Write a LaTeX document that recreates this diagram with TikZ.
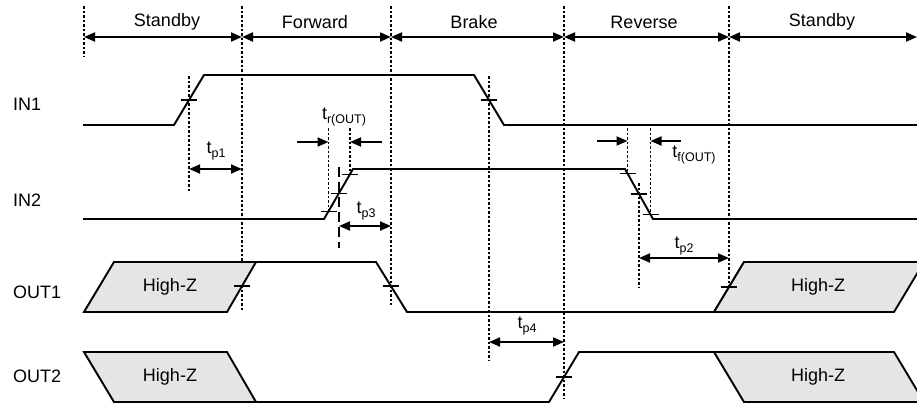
\documentclass[tikz,border=0pt]{standalone}
\usepackage{fontspec}
\setmainfont{Liberation Sans}
\usetikzlibrary{arrows.meta}
\newcommand\tsub[1]{t\raisebox{-4pt}{\fontsize{12.5}{13}\selectfont #1}}
\begin{document}
\begin{tikzpicture}[x=1pt,y=-1pt,
  sig/.style={line width=1.9pt, line join=miter},
  guide/.style={line width=1.5pt, dash pattern=on 2.5pt off 2pt},
  longdash/.style={line width=1.5pt, dash pattern=on 10pt off 5pt},
  tickmark/.style={line width=1.2pt},
  dimarrow/.style={line width=1.8pt, {Triangle[length=11pt,width=9pt]}-{Triangle[length=11pt,width=9pt]}},
  pointer/.style={line width=1.8pt, -{Triangle[length=11pt,width=9pt]}},
  lbl/.style={font=\fontsize{18}{20}\selectfont, inner sep=0pt},
  sublbl/.style={font=\fontsize{18}{20}\selectfont, inner sep=0pt},
  hiz/.style={fill=gray!20, line width=1.9pt, line join=miter}]
\useasboundingbox (0,0) rectangle (917,405);

% ---------- phase boundaries ----------
\foreach \n/\x/\yb in {b0/84/57, b1/242/310, b2/391/305, b3/564/398, b4/729/305} {
  \coordinate (\n t) at (\x,6);
  \coordinate (\n) at (\x,37);
  \coordinate (\n b) at (\x,\yb);
  \draw[guide] (\n t) -- (\n b);
}
\coordinate (b5) at (917,37);
\draw[dimarrow] (b0) -- (b1);
\draw[dimarrow] (b1) -- (b2);
\draw[dimarrow] (b2) -- (b3);
\draw[dimarrow] (b3) -- (b4);
\draw[dimarrow] (b4) -- (b5);

\node[lbl] (ph1) at (167,22) {Standby};
\node[lbl] (ph2) at (315,22) {Forward};
\node[lbl] (ph3) at (474,22) {Brake};
\node[lbl] (ph4) at (644,22) {Reverse};
\node[lbl] (ph5) at (822,22) {Standby};

% ---------- signal names ----------
\node[lbl, anchor=west] (nin1) at (13,104) {IN1};
\node[lbl, anchor=west] (nin2) at (13,200) {IN2};
\node[lbl, anchor=west] (nout1) at (13,292) {OUT1};
\node[lbl, anchor=west] (nout2) at (13,376) {OUT2};

% ---------- IN1 ----------
\draw[sig] (83,125) -- (174,125) -- (204,75) -- (474,75) -- (504,125) -- (917,125);
\coordinate (g1t) at (189,76);  \coordinate (g1b) at (189,192);
\draw[guide] (g1t) -- (g1b);
\draw[tickmark] (181,100) -- (197,100);
\coordinate (g5t) at (489,76);  \coordinate (g5b) at (489,360);
\draw[guide] (g5t) -- (g5b);
\draw[tickmark] (481,100) -- (497,100);

% ---------- IN2 ----------
\draw[sig] (83,219) -- (324,219) -- (353,169) -- (625,169) -- (653,219) -- (917,219);
% rise
\coordinate (r1t) at (328.5,128); \coordinate (r1b) at (328.5,211.2);
\coordinate (r3t) at (350,128);   \coordinate (r3b) at (350,174.2);
\coordinate (r2t) at (339,167);   \coordinate (r2b) at (339,248);
\draw[guide] (r1t) -- (r1b);
\draw[guide] (r3t) -- (r3b);
\draw[longdash] (r2t) -- (r2b);
\draw[tickmark] (320.5,211.2) -- (336.5,211.2);
\draw[tickmark] (331,193.1) -- (347,193.1);
\draw[tickmark] (342,174.2) -- (358,174.2);
% fall
\coordinate (f1t) at (627.5,128); \coordinate (f1b) at (627.5,173.5);
\coordinate (f3t) at (650.5,128); \coordinate (f3b) at (650.5,214.3);
\coordinate (f2t) at (639,183);   \coordinate (f2b) at (639,287);
\draw[guide] (f1t) -- (f1b);
\draw[guide] (f3t) -- (f3b);
\draw[guide] (f2t) -- (f2b);
\draw[tickmark] (619.5,173.5) -- (635.5,173.5);
\draw[tickmark] (631,194) -- (647,194);
\draw[tickmark] (642.5,214.3) -- (658.5,214.3);

% ---------- OUT1 ----------
\draw[hiz] (84,312) -- (114,262) -- (256,262) -- (227,312) -- cycle;
\draw[sig] (256,262) -- (376,262) -- (407,312) -- (714,312) -- (744,262);
\draw[hiz] (714,312) -- (744,262) -- (924,262) -- (894,312) -- cycle;
\node[lbl] (hz1) at (170,287) {High-Z};
\node[lbl] (hz2) at (818,287) {High-Z};
\draw[tickmark] (234,286) -- (250,286);
\draw[tickmark] (383,286) -- (399,286);
\draw[tickmark] (721,287) -- (737,287);

% ---------- OUT2 ----------
\draw[hiz] (84,352) -- (227,352) -- (256,402) -- (114,402) -- cycle;
\draw[sig] (256,402) -- (549,402) -- (579,352) -- (714,352);
\draw[hiz] (714,352) -- (894,352) -- (924,402) -- (744,402) -- cycle;
\node[lbl] (hz3) at (170,377) {High-Z};
\node[lbl] (hz4) at (818,377) {High-Z};
\draw[tickmark] (556,377) -- (572,377);

% ---------- timing dimensions ----------
\coordinate (p1a) at (189,169); \coordinate (p1b) at (242,169);
\draw[dimarrow] (p1a) -- (p1b);
\node[sublbl] (tp1) at (216,151) {\tsub{p1}};

\coordinate (p3a) at (339,226); \coordinate (p3b) at (391,226);
\draw[dimarrow] (p3a) -- (p3b);
\node[sublbl] (tp3) at (366,211) {\tsub{p3}};

\coordinate (p2a) at (639,258); \coordinate (p2b) at (729,258);
\draw[dimarrow] (p2a) -- (p2b);
\node[sublbl] (tp2) at (684,246) {\tsub{p2}};

\coordinate (p4a) at (489,342); \coordinate (p4b) at (564,342);
\draw[dimarrow] (p4a) -- (p4b);
\node[sublbl] (tp4) at (527,326) {\tsub{p4}};

% rise / fall time pointers
\coordinate (tra) at (297,142); \coordinate (tra2) at (328.5,142);
\coordinate (trb) at (382,142); \coordinate (trb2) at (350,142);
\draw[pointer] (tra) -- (tra2);
\draw[pointer] (trb) -- (trb2);
\node[sublbl] (tr) at (344,117) {\tsub{r(OUT)}};

\coordinate (tfa) at (597,141); \coordinate (tfa2) at (627.5,141);
\coordinate (tfb) at (681,141); \coordinate (tfb2) at (650.5,141);
\draw[pointer] (tfa) -- (tfa2);
\draw[pointer] (tfb) -- (tfb2);
\node[sublbl] (tf) at (694,155) {\tsub{f(OUT)}};
\end{tikzpicture}
\end{document}
